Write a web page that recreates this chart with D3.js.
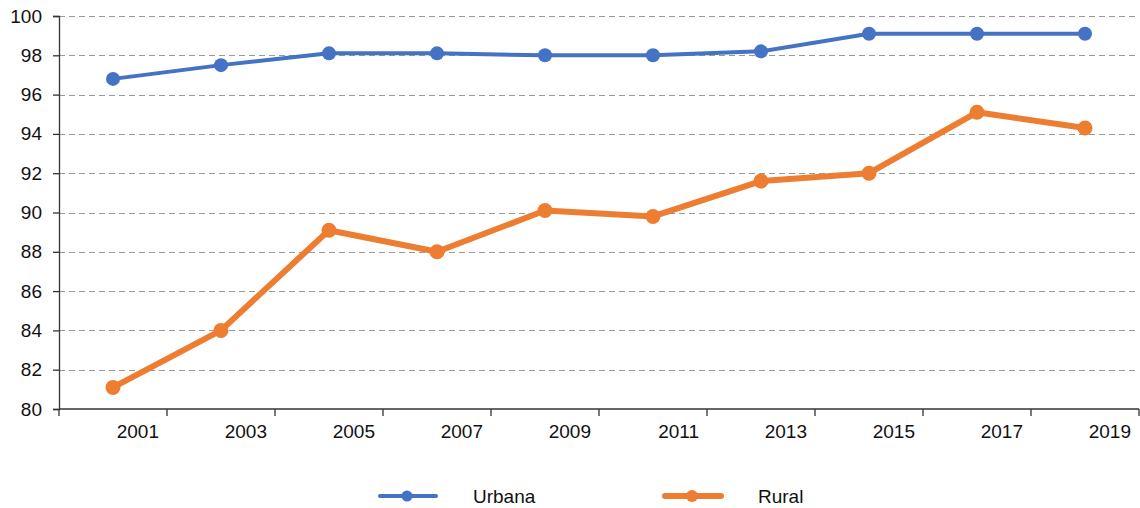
<!DOCTYPE html>
<html>
<head>
<meta charset="utf-8">
<script src="https://cdn.jsdelivr.net/npm/d3@7"></script>
<style>
  body { margin: 0; background: #fff; }
  svg { display: block; }
  text { font-family: "Liberation Sans", Arial, sans-serif; fill: #111; }
</style>
</head>
<body>
<svg width="1140" height="508"></svg>
<script>
// chart data
const years = ["2001", "2003", "2005", "2007", "2009", "2011", "2013", "2015", "2017", "2019"];
const urbana = [96.8, 97.5, 98.1, 98.1, 98.0, 98.0, 98.2, 99.1, 99.1, 99.1];
const rural = [81.1, 84.0, 89.1, 88.0, 90.1, 89.8, 91.6, 92.0, 95.1, 94.3];
const yTicks = [80, 82, 84, 86, 88, 90, 92, 94, 96, 98, 100];

const series = [
  {name: "Urbana", values: urbana, color: "#4472C4", width: 4, r: 7},
  {name: "Rural", values: rural, color: "#ED7D31", width: 6, r: 7.5}
];

var svg = d3.select("svg"),
    margin = {top: 16, right: 1, bottom: 99, left: 59},
    width = +svg.attr("width") - margin.left - margin.right,
    height = +svg.attr("height") - margin.top - margin.bottom,
    g = svg.append("g").attr("transform", "translate(" + margin.left + "," + margin.top + ")");

var x = d3.scaleBand().domain(years).range([0, width]),
    y = d3.scaleLinear().domain([80, 100]).range([height, 0]);

// grid
g.append("g")
  .selectAll("line")
  .data(yTicks.filter(d => d > 80))
  .enter().append("line")
    .attr("x1", 0)
    .attr("x2", width)
    .attr("y1", d => Math.round(y(d)) + 0.5)
    .attr("y2", d => Math.round(y(d)) + 0.5)
    .style("stroke", "#9a9a9a")
    .style("stroke-width", 1.2)
    .style("stroke-dasharray", "6,4");

// y axis
var yAxis = g.append("g")
    .call(d3.axisLeft(y).tickValues(yTicks).tickSize(6).tickPadding(11).tickFormat(d3.format("d")));
yAxis.select(".domain").attr("stroke", "#333").attr("stroke-width", 1.3);
yAxis.selectAll(".tick line").attr("stroke", "#333").attr("stroke-width", 1.3);
yAxis.selectAll("text").style("font-size", "19px").attr("fill", "#111");

// x axis: ticks on band edges, labels right-aligned before the next tick
var xg = g.append("g").attr("transform", "translate(0," + height + ")");
xg.append("line")
    .attr("x1", 0).attr("x2", width)
    .attr("y1", 0).attr("y2", 0)
    .attr("stroke", "#333").attr("stroke-width", 1.3);
xg.selectAll(".xt")
  .data(years.concat(["end"]))
  .enter().append("line")
    .attr("class", "xt")
    .attr("x1", (d, i) => i < years.length ? x(d) : width)
    .attr("x2", (d, i) => i < years.length ? x(d) : width)
    .attr("y1", 0).attr("y2", 7)
    .attr("stroke", "#333").attr("stroke-width", 1.3);
xg.selectAll(".xl")
  .data(years)
  .enter().append("text")
    .attr("class", "xl")
    .attr("x", d => x(d) + x.bandwidth() - 8)
    .attr("y", 29)
    .attr("text-anchor", "end")
    .style("font-size", "19px")
    .text(d => d);

// lines and markers
var line = d3.line()
    .x((d, i) => x(years[i]) + x.bandwidth() / 2)
    .y(d => y(d));

series.forEach(function(s) {
  g.append("path")
      .datum(s.values)
      .attr("d", line)
      .attr("fill", "none")
      .attr("stroke", s.color)
      .attr("stroke-width", s.width)
      .attr("stroke-linejoin", "round");
  g.selectAll(null)
    .data(s.values)
    .enter().append("circle")
      .attr("cx", (d, i) => x(years[i]) + x.bandwidth() / 2)
      .attr("cy", d => y(d))
      .attr("r", s.r)
      .attr("fill", s.color);
});

// legend
var legendPos = [380, 665];
var legend = svg.append("g").attr("transform", "translate(0,496)");
series.forEach(function(s, i) {
  var lx = legendPos[i];
  var gr = legend.append("g").attr("transform", "translate(" + lx + ",0)");
  gr.append("line")
      .attr("x1", 0).attr("x2", 56)
      .attr("y1", 0).attr("y2", 0)
      .attr("stroke", s.color)
      .attr("stroke-width", s.width)
      .attr("stroke-linecap", "round");
  gr.append("circle")
      .attr("cx", 27).attr("cy", 0)
      .attr("r", i === 0 ? 5.5 : 6)
      .attr("fill", s.color);
  gr.append("text")
      .attr("x", 93)
      .attr("y", 7)
      .style("font-size", "19px")
      .text(s.name);
});
</script>
</body>
</html>
